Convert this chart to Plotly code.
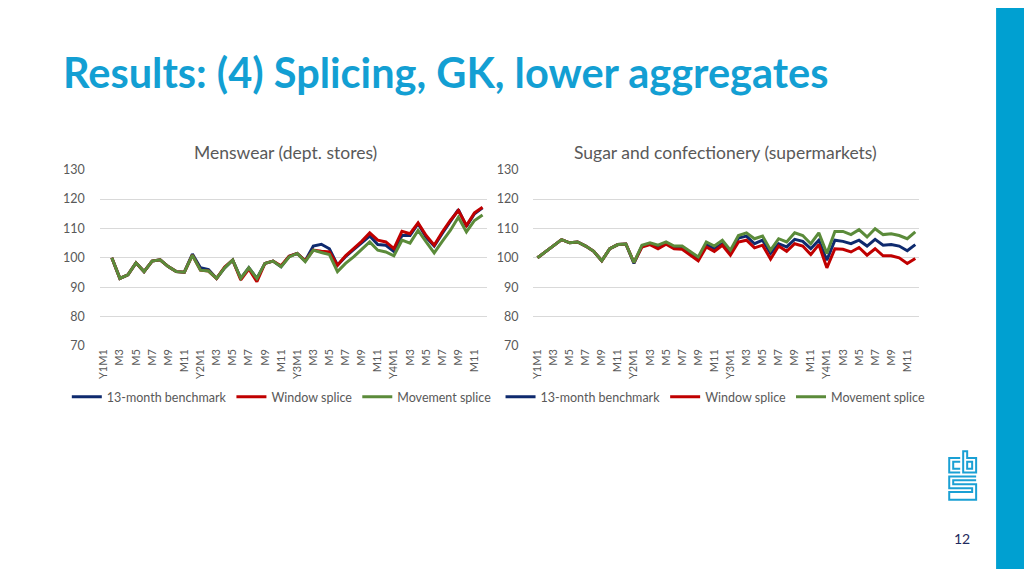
import plotly.graph_objects as go

# ---------------- data ----------------
months = [f"Y{y}M{m}" for y in range(1, 5) for m in range(1, 13)]
tick_months = months[::2]
tick_labels = [("Y%dM1" % (i // 6 + 1)) if i % 6 == 0 else "M%d" % (2 * (i % 6) + 1) for i in range(24)]

series_names = ["13-month benchmark", "Window splice", "Movement splice"]
series_colors = ["#0e2a6e", "#c00000", "#5b8b3a"]

# Menswear (dept. stores): values from Y1M2 to Y4M12
menswear_x = months[1:]
menswear_bench = [100, 93.0, 94.2, 98.3, 95.3, 98.9, 99.3, 97.0, 95.3, 95.1, 101.3, 96.6, 96.0, 93.0,
                  96.6, 99.2, 93.0, 96.6, 93.0, 98.1, 98.9, 97.0, 100.5, 101.5, 99.0, 104.0, 104.6,
                  103.1, 97.5, 100.4, 102.8, 105.0, 107.4, 104.5, 104.3, 102.2, 107.6, 107.6, 111.6,
                  107.0, 104.0, 108.3, 112.4, 116.4, 110.7, 115.0, 117.0]
menswear_window = [100, 93.0, 94.2, 98.3, 95.3, 98.9, 99.3, 97.0, 95.3, 95.1, 100.9, 95.8, 95.5, 93.0,
                   96.9, 99.2, 92.5, 96.2, 91.9, 98.1, 98.9, 97.3, 100.5, 101.5, 99.0, 102.6, 102.2,
                   102.0, 97.5, 100.7, 103.1, 105.6, 108.5, 106.0, 105.4, 103.1, 109.0, 108.2, 111.9,
                   107.6, 104.3, 108.8, 112.7, 116.1, 111.0, 115.3, 117.2]
menswear_movement = [100, 93.0, 94.2, 98.3, 95.3, 98.9, 99.3, 97.0, 95.3, 95.1, 100.9, 95.8, 95.5, 93.0,
                     96.6, 99.2, 93.0, 96.6, 93.0, 98.1, 98.9, 97.0, 100.3, 101.5, 98.7, 102.6, 101.8,
                     101.1, 95.3, 98.1, 100.3, 102.8, 105.4, 102.6, 102.0, 100.7, 106.0, 105.0, 109.3,
                     105.4, 101.7, 105.6, 109.3, 113.8, 108.8, 112.7, 114.6]

# Sugar and confectionery (supermarkets): Y1M1 to Y4M12
sugar_x = months
sugar_bench = [100, 102, 103.9, 106.2, 105.1, 105.4, 104, 102.2, 99, 103.1, 104.5, 104.7,
               98.1, 104.0, 104.8, 103.7, 105.0, 103.5, 103.5, 101.6, 99.7, 104.6, 103.1, 104.8,
               102.0, 106.7, 107.4, 104.8, 106.0, 101.5, 104.8, 103.7, 106.3, 105.6, 103.1, 106.0,
               99.2, 106.0, 105.6, 104.8, 106.0, 104.0, 106.3, 104.3, 104.5, 104.0, 102.4, 104.5]
sugar_window = [100, 102, 103.9, 106.2, 105.1, 105.4, 104, 102.2, 99, 103.1, 104.5, 104.7,
                98.4, 103.7, 104.5, 103.1, 104.6, 103.1, 102.9, 100.9, 99.0, 103.7, 102.2, 104.3,
                100.9, 105.4, 106.0, 103.4, 104.3, 99.6, 104.0, 102.2, 104.8, 104.0, 101.1, 104.5,
                96.6, 103.1, 102.9, 102.0, 103.5, 100.9, 103.1, 100.7, 100.7, 100.0, 98.1, 99.8]
sugar_movement = [100, 102, 103.9, 106.2, 105.1, 105.4, 104, 102.2, 99, 103.1, 104.5, 104.7,
                  98.4, 104.3, 105.1, 104.3, 105.4, 104.0, 104.0, 102.2, 100.3, 105.4, 104.0, 106.0,
                  102.6, 107.6, 108.5, 106.5, 107.4, 102.6, 106.5, 105.4, 108.5, 107.6, 104.8, 108.5,
                  101.5, 109.0, 109.0, 107.9, 109.6, 107.1, 109.9, 107.9, 108.2, 107.6, 106.5, 108.8]

titles = ["Menswear (dept. stores)", "Sugar and confectionery (supermarkets)"]
y_ticks = [70, 80, 90, 100, 110, 120, 130]

# ---------------- figure ----------------
W, H = 1024, 576
GRAY = "#595959"
FONT = "Lato"

fig = go.Figure()

panels = [
    (menswear_x, [menswear_bench, menswear_window, menswear_movement], "x", "y", "legend"),
    (sugar_x, [sugar_bench, sugar_window, sugar_movement], "x2", "y2", "legend2"),
]
for xs, ys_list, xa, ya, lg in panels:
    for name, col, ys in zip(series_names, series_colors, ys_list):
        fig.add_trace(go.Scatter(x=xs, y=ys, mode="lines", name=name,
                                 line=dict(color=col, width=3),
                                 xaxis=xa, yaxis=ya, legend=lg))

def px_x(p):
    return p / W

def px_y(p):
    return 1 - p / H

ydom = [px_y(347), px_y(166)]
xdoms = [[px_x(97), px_x(485)], [px_x(532), px_x(919)]]

axis_common_x = dict(type="category", categoryorder="array", categoryarray=months,
                     range=[-0.5, 47.5], tickmode="array", tickvals=tick_months,
                     ticktext=tick_labels, tickangle=-90, showgrid=False, zeroline=False,
                     showline=False, ticks="", tickfont=dict(family=FONT, size=11, color=GRAY),
                     fixedrange=True)
axis_common_y = dict(range=[70, 130], tickvals=y_ticks, showgrid=True, gridcolor="#d9d9d9",
                     gridwidth=1, zeroline=False, showline=False, ticks="",
                     tickfont=dict(family=FONT, size=12.5, color=GRAY), ticklabelstandoff=14)

legend_common = dict(orientation="h", xanchor="left", yanchor="top",
                     font=dict(family=FONT, size=12.5, color=GRAY), itemwidth=30,
                     bgcolor="rgba(0,0,0,0)", tracegroupgap=0)

fig.update_layout(
    width=W, height=H, margin=dict(l=0, r=0, t=0, b=0),
    paper_bgcolor="white", plot_bgcolor="white",
    xaxis=dict(domain=xdoms[0], anchor="y", **axis_common_x),
    xaxis2=dict(domain=xdoms[1], anchor="y2", **axis_common_x),
    yaxis=dict(domain=ydom, anchor="x", **axis_common_y),
    yaxis2=dict(domain=ydom, anchor="x2", **axis_common_y),
    legend=dict(x=px_x(64), y=px_y(384), **legend_common),
    legend2=dict(x=px_x(499), y=px_y(384), **legend_common),
    showlegend=True,
)

annotations = [
    dict(text="<b>Results: (4) Splicing, GK, lower aggregates</b>", x=px_x(58), y=px_y(66),
         xref="paper", yref="paper", xanchor="left", yanchor="middle", showarrow=False,
         font=dict(family=FONT, size=41.5, color="#139fd3")),
    dict(text=titles[0], x=px_x(283), y=px_y(148), xref="paper", yref="paper",
         xanchor="center", yanchor="middle", showarrow=False,
         font=dict(family=FONT, size=17.5, color=GRAY)),
    dict(text=titles[1], x=px_x(725), y=px_y(148), xref="paper", yref="paper",
         xanchor="center", yanchor="middle", showarrow=False,
         font=dict(family=FONT, size=17.5, color=GRAY)),
    dict(text="12", x=px_x(962), y=px_y(545), xref="paper", yref="paper",
         xanchor="center", yanchor="middle", showarrow=False,
         font=dict(family=FONT, size=14, color="#1f2a5e")),
]
fig.update_layout(annotations=annotations)

# right-side blue bar and cbs logo
logo_col = "#1aa0d4"
shapes = [
    dict(type="rect", xref="paper", yref="paper", x0=px_x(996), x1=1.0, y0=0, y1=1,
         fillcolor="#00a0d1", line=dict(width=0), layer="above"),
]
logo_paths = [
    # "c"
    "M 960 462 L 949 462 L 949 477 L 960 477",
    "M 960 466 L 953 466 L 953 473 L 960 473",
    # "b"
    "M 963 455 L 963 477 L 976 477 L 976 462 L 967 462 L 967 455 Z",
    "M 967 466 L 972 466 L 972 473 L 967 473 Z",
    # "s"
    "M 976 481 L 949 481 L 949 493 L 972 493 L 972 497 L 949 497 L 949 505 L 976 505 L 976 489 L 953 489 L 953 485 L 976 485",
]
for p in logo_paths:
    toks = p.split()
    out = []
    i = 0
    while i < len(toks):
        t = toks[i]
        if t in ("M", "L"):
            xp = float(toks[i + 1]) / W
            yp = 1 - float(toks[i + 2]) / H
            out.append(f"{t} {xp:.5f} {yp:.5f}")
            i += 3
        else:
            out.append(t)
            i += 1
    shapes.append(dict(type="path", xref="paper", yref="paper", path=" ".join(out),
                       line=dict(color=logo_col, width=2), fillcolor="rgba(0,0,0,0)"))
fig.update_layout(shapes=shapes)

fig.write_html("out.html", config={"displayModeBar": False},
               post_script="document.body.style.margin='0px';document.body.style.overflow='hidden';")
